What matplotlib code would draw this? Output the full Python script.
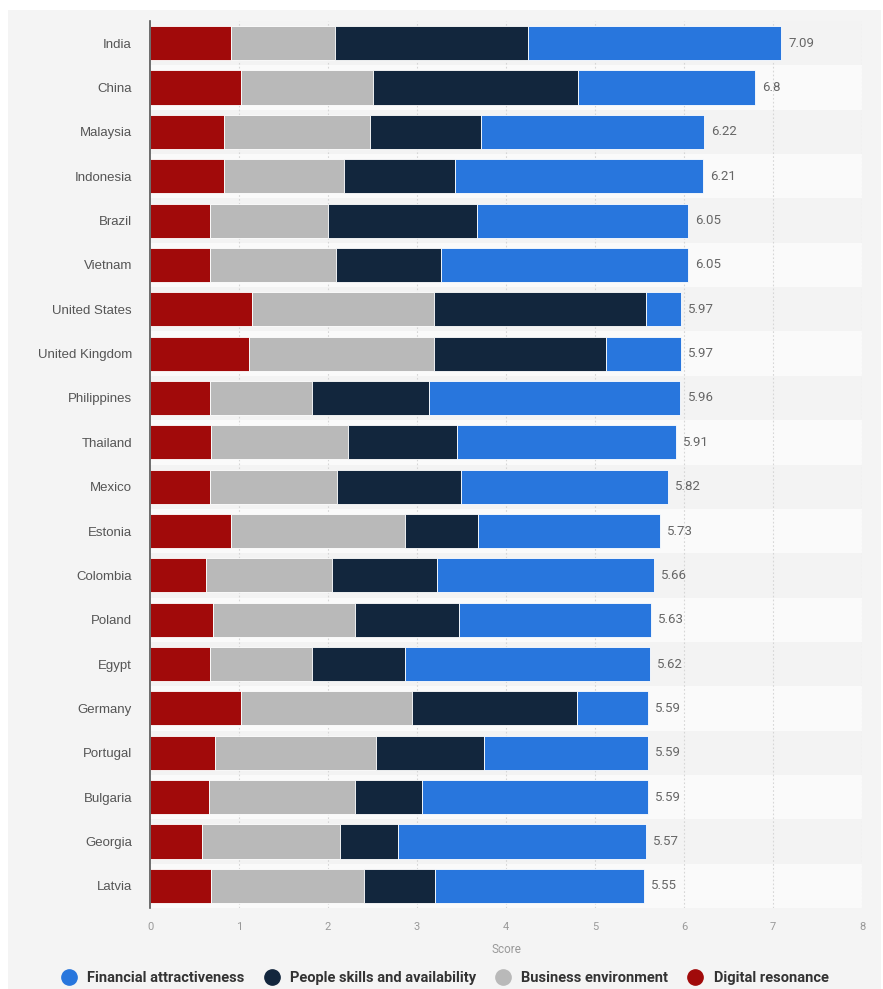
import matplotlib.pyplot as plt
from matplotlib.patches import Rectangle
from matplotlib.lines import Line2D
import numpy as np

countries = ["India", "China", "Malaysia", "Indonesia", "Brazil", "Vietnam",
             "United States", "United Kingdom", "Philippines", "Thailand",
             "Mexico", "Estonia", "Colombia", "Poland", "Egypt", "Germany",
             "Portugal", "Bulgaria", "Georgia", "Latvia"]
totals = [7.09, 6.8, 6.22, 6.21, 6.05, 6.05, 5.97, 5.97, 5.96, 5.91,
          5.82, 5.73, 5.66, 5.63, 5.62, 5.59, 5.59, 5.59, 5.57, 5.55]
digital = [0.91, 1.02, 0.83, 0.83, 0.67, 0.67, 1.15, 1.11, 0.67, 0.68,
           0.67, 0.91, 0.63, 0.71, 0.67, 1.02, 0.73, 0.66, 0.58, 0.68]
business = [1.17, 1.48, 1.64, 1.35, 1.33, 1.42, 2.04, 2.08, 1.15, 1.54,
            1.43, 1.95, 1.42, 1.59, 1.15, 1.92, 1.81, 1.64, 1.56, 1.73]
people = [2.17, 2.31, 1.25, 1.25, 1.67, 1.18, 2.38, 1.93, 1.32, 1.23,
          1.39, 0.82, 1.18, 1.17, 1.05, 1.86, 1.21, 0.76, 0.65, 0.79]
financial = [2.84, 1.99, 2.50, 2.78, 2.38, 2.78, 0.40, 0.85, 2.82, 2.46,
             2.33, 2.05, 2.43, 2.16, 2.75, 0.79, 1.84, 2.53, 2.78, 2.35]

series = [("Digital resonance", digital, "#a10a0a"),
          ("Business environment", business, "#b9b9b9"),
          ("People skills and availability", people, "#12263d"),
          ("Financial attractiveness", financial, "#2876dd")]

fig = plt.figure(figsize=(8.83, 9.89), dpi=100)
fig.patch.set_facecolor("white")
fig.patches.append(Rectangle((8/883, 0), 873/883, 1 - 10/989, transform=fig.transFigure,
                             facecolor="#f4f4f4", edgecolor="none", zorder=-10))

ax = fig.add_axes([150/883, 1 - 908/989, 712/883, (908 - 21)/989])
ax.set_facecolor("none")

n = len(countries)
y = np.arange(n)
for i in range(n):
    ax.axhspan(i - 0.5, i + 0.5, color="#f3f3f3" if i % 2 == 0 else "#fafafa", zorder=0, lw=0)

for xv in range(1, 9):
    ax.axvline(xv, color="#d6d6d6", lw=0.8, ls=(0, (1.5, 2)), zorder=1)

left = np.zeros(n)
for name, vals, col in series:
    vals = np.array(vals)
    ax.barh(y, vals, left=left, height=0.77, color=col, edgecolor="white", linewidth=0.6, zorder=2)
    left = left + vals

for i, t in enumerate(totals):
    ax.text(left[i] + 0.08, i, f"{t:g}", va="center", ha="left", fontsize=9.5,
            color="#666666", family="Roboto")

ax.set_xlim(0, 8)
ax.set_ylim(n - 0.5, -0.5)
ax.set_yticks(y)
ax.set_yticklabels(countries, fontsize=9.5, color="#555555", family="Liberation Sans")
ax.set_xticks(range(0, 9))
ax.tick_params(axis="x", length=0, labelsize=8, labelcolor="#999999", pad=10)
ax.tick_params(axis="y", length=0, pad=13)
for lab in ax.get_xticklabels():
    lab.set_family("Roboto")
ax.set_xlabel("Score", fontsize=8.5, color="#999999", labelpad=8, family="Roboto")
for s in ["top", "right", "bottom"]:
    ax.spines[s].set_visible(False)
ax.spines["left"].set_color("#555555")
ax.spines["left"].set_linewidth(1.2)

handles = [Line2D([], [], marker="o", ls="", markersize=11, color=c) for _, _, c in series[::-1]]
labels = [s[0] for s in series[::-1]]
leg = fig.legend(handles, labels, loc="center", bbox_to_anchor=(0.5, 1 - 978/989), ncol=4,
                 frameon=False, handletextpad=0.25, columnspacing=0.85,
                 prop={"size": 10.5, "weight": "bold", "family": "Roboto"})
for t in leg.get_texts():
    t.set_color("#333333")

fig.savefig("out.png", dpi=100)
